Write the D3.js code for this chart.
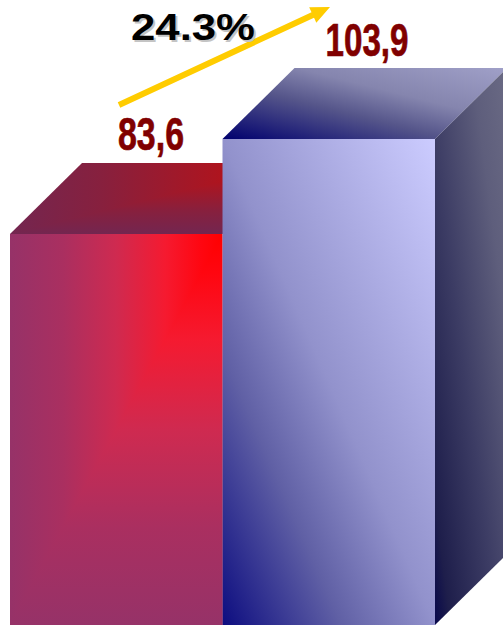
<!DOCTYPE html>
<html><head><meta charset="utf-8">
<style>html,body{margin:0;padding:0;background:#fff;overflow:hidden}svg{display:block}</style>
<script src="https://cdn.jsdelivr.net/npm/d3@7"></script></head>
<body><div id="chart"></div>
<script>
const categories = ["A", "B"];
const values = [83.6, 103.9];
const valueLabels = ["83,6", "103,9"];
const changeLabel = "24.3%";

const W = 503, H = 625, depthX = 72, depthY = 71;
const svg = d3.select("#chart").append("svg").attr("width", W).attr("height", H);
const x = d3.scaleBand().domain(categories).range([10, 435]).padding(0);
const y = d3.scaleLinear().domain([0, 103.9]).range([625, 139]);
const defs = svg.append("defs");

function grad(id, dir, stops) {
  const g = defs.append("linearGradient").attr("id", id)
    .attr("x1", dir[0]).attr("y1", dir[1]).attr("x2", dir[2]).attr("y2", dir[3]);
  stops.forEach(([o, c]) => g.append("stop").attr("offset", o).attr("stop-color", c));
}
// PowerPoint style "from corner" fills: two ramps that meet on the box diagonal
const redFrontStops = [[0, "#ff0000"], [0.1, "#ff0610"], [0.27, "#f51a30"], [0.5, "#cf2a50"], [0.75, "#aa2f60"], [1, "#963268"]];
const redTopStops = [[0, "#cd0a0a"], [0.25, "#af141e"], [0.68, "#87203e"], [1, "#732650"]];
grad("redFrontH", [1, 0, 0, 0], redFrontStops);
grad("redFrontV", [0, 0, 0, 1], redFrontStops);
grad("redTopH", [1, 0, 0, 0], redTopStops);
grad("redTopV", [0, 0, 0, 1], redTopStops);
grad("blueFront", [0, 1, 1, 0], [[0, "#0d0d80"], [0.28, "#6060a5"], [0.5, "#9292cc"], [1, "#ccccff"]]);
grad("blueTop", [0, 1, 1, 0], [[0, "#00006e"], [0.4, "#55558a"], [0.63, "#8585ae"], [1, "#a0a0c8"]]);
grad("blueSide", [0, 1, 1, 0], [[0, "#08084a"], [0.11, "#1e1e4b"], [0.43, "#3c3c64"], [0.76, "#5e5e7c"], [1, "#6a6a84"]]);

const rows = categories.map((c, i) => ({c, v: values[i], label: valueLabels[i]}));
const poly = pts => d3.line()(pts) + "Z";
const bw = x.bandwidth();
const topPts = d => { const l = x(d.c), r = l + bw, t = y(d.v);
  return [[l, t], [l + depthX, t - depthY], [r + depthX, t - depthY], [r, t]]; };
const sidePts = d => { const r = x(d.c) + bw, t = y(d.v), b = y(0);
  return [[r, t], [r + depthX, t - depthY], [r + depthX, b - depthY], [r, b]]; };

const bars = svg.selectAll("g.bar").data(rows).join("g").attr("class", "bar");
const redBar = bars.filter(d => d.c === "A");
const blueBar = bars.filter(d => d.c === "B");

// red top face
const rd = rows[0];
const rl = x(rd.c), rr = rl + bw, rt = y(rd.v), rb = y(0);
defs.append("clipPath").attr("id", "redTopTri").append("path")
  .attr("d", poly([[rr + depthX, rt - depthY], [rr + depthX, rt], [rl, rt]]));
redBar.append("path").attr("d", poly(topPts(rd))).attr("fill", "url(#redTopH)");
redBar.append("path").attr("d", poly(topPts(rd))).attr("fill", "url(#redTopV)").attr("clip-path", "url(#redTopTri)");
// red front face
redBar.append("path").attr("d", poly([[rl, rt], [rr, rt], [rr, rb], [rl, rb]])).attr("fill", "url(#redFrontH)");
defs.append("clipPath").attr("id", "redFrontTri").append("path")
  .attr("d", poly([[rr, rt], [rr, rb], [rl, rb]]));
redBar.append("rect").attr("x", rl).attr("y", rt).attr("width", bw).attr("height", rb - rt)
  .attr("fill", "url(#redFrontV)").attr("clip-path", "url(#redFrontTri)");

// blue faces
blueBar.append("path").attr("d", d => poly(topPts(d))).attr("fill", "url(#blueTop)");
blueBar.append("path").attr("d", d => poly(sidePts(d))).attr("fill", "url(#blueSide)");
blueBar.append("rect").attr("x", d => x(d.c)).attr("y", d => y(d.v))
  .attr("width", bw).attr("height", d => y(0) - y(d.v)).attr("fill", "url(#blueFront)");

const labelX = {A: 151, B: 367};
const labelBase = {A: 150, B: 56};
const labelLen = {A: 66, B: 83};
svg.selectAll("text.val").data(rows).join("text").attr("class", "val")
  .attr("x", d => labelX[d.c]).attr("y", d => labelBase[d.c])
  .attr("text-anchor", "middle").attr("font-family", "'Liberation Sans Narrow','Liberation Sans',sans-serif")
  .attr("font-weight", 700).attr("font-size", 47).attr("fill", "#800000")
  .attr("stroke", "#800000").attr("stroke-width", 0.7)
  .attr("textLength", d => labelLen[d.c]).attr("lengthAdjust", "spacingAndGlyphs")
  .text(d => d.label);

// change arrow
const a0 = [119, 105], a1 = [330, 7];
const ang = Math.atan2(a1[1] - a0[1], a1[0] - a0[0]);
const hl = 19, hw = 8.5, sw = 3;
const pt = (al, pe) => [a0[0] + al * Math.cos(ang) - pe * Math.sin(ang), a0[1] + al * Math.sin(ang) + pe * Math.cos(ang)];
const len = Math.hypot(a1[0] - a0[0], a1[1] - a0[1]);
svg.append("path").attr("fill", "#ffcc00").attr("d", poly([
  pt(0, -sw), pt(len - hl, -sw), pt(len - hl, -hw), pt(len, 0), pt(len - hl, hw), pt(len - hl, sw), pt(0, sw)
]));

const change = svg.append("g");
[["#c4c4c4", 2, 2], ["#000", 0, 0]].forEach(([c, dx, dy]) => {
  change.append("text").attr("x", 131 + dx).attr("y", 40 + dy)
    .attr("font-family", "'Liberation Sans',Arial,sans-serif").attr("font-weight", 700)
    .attr("font-size", 37).attr("fill", c)
    .attr("textLength", 124).attr("lengthAdjust", "spacingAndGlyphs").text(changeLabel);
});
</script></body></html>
